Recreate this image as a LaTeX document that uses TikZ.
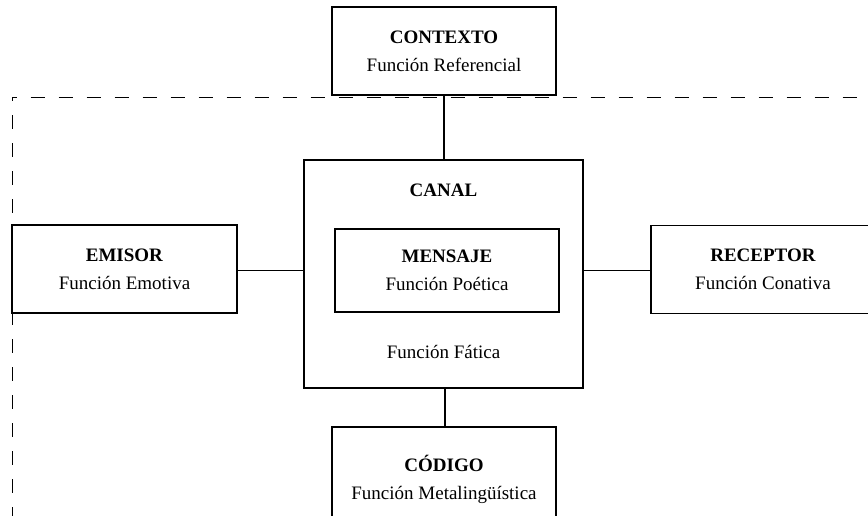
\documentclass[tikz,border=0pt]{standalone}
\usepackage{fontspec}
\setmainfont{Liberation Serif}

\begin{document}
\begin{tikzpicture}[x=1pt, y=-1pt, line width=1.5pt,
	box/.style={draw, fill=white, line width=1.7pt, minimum width=224pt, minimum height=88pt, align=center, inner sep=0pt, font=\fontsize{19}{28}\selectfont},
	lbl/.style={font=\fontsize{19}{28}\selectfont},
	frame/.style={line width=1pt, dash pattern=on 14pt off 14pt, dash phase=10pt}]
	\clip (0,0) rectangle (868,515);

	% dashed frame
	\coordinate (F) at (12.5,97);
	\draw[frame] (F) -- (12.5,540);
	\draw[frame] (F) -- (900,97);

	\node[box] (CTX) at (444,51) {\textbf{CONTEXTO}\\Función Referencial};

	\node[box, minimum width=279pt, minimum height=228pt] (CAN) at (443.5,274) {};
	\node[lbl] (CANt) at (443.5,190) {\textbf{CANAL}};
	\node[lbl] (FAT) at (443.5,352) {Función Fática};
	\node[box, minimum height=83pt] (MSG) at (447,270.5) {\textbf{MENSAJE}\\Función Poética};

	\node[box, minimum width=225pt] (EMI) at (124.5,269) {\textbf{EMISOR}\\Función Emotiva};
	\node[box] (REC) at (763,269.5) {\textbf{RECEPTOR}\\Función Conativa};

	\node[box, minimum height=104pt] (COD) at (444,479) {\textbf{CÓDIGO}\\Función Metalingüística};

	\draw (CTX.south) to (CTX.south |- CAN.north);
	\draw (EMI.east |- 0,270.5) to (CAN.west |- 0,270.5);
	\draw (CAN.east |- 0,270.5) to (REC.west |- 0,270.5);
	\draw (COD.north -| 445,0) to (CAN.south -| 445,0);

\end{tikzpicture}
\end{document}
